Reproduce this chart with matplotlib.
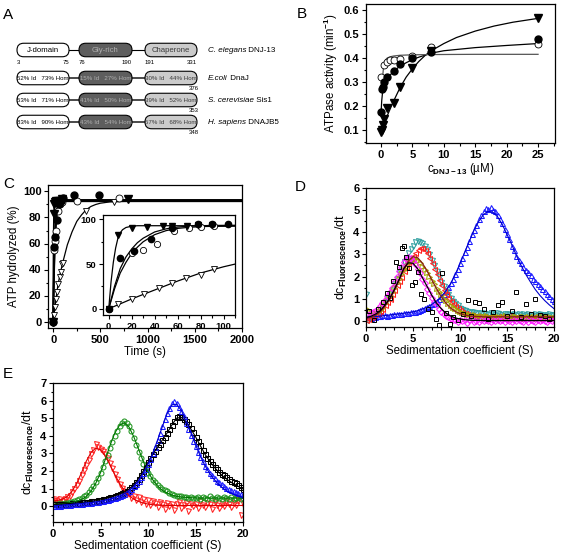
import numpy as np
import matplotlib
matplotlib.use('Agg')
import matplotlib.pyplot as plt
from matplotlib.patches import FancyBboxPatch
from matplotlib.ticker import MultipleLocator

plt.rcParams['font.family'] = ['Liberation Sans', 'DejaVu Sans']
plt.rcParams['font.weight'] = 'bold'
plt.rcParams['mathtext.fontset'] = 'custom'
plt.rcParams['mathtext.rm'] = 'Liberation Sans'
plt.rcParams['mathtext.bf'] = 'Liberation Sans:bold'
plt.rcParams['mathtext.it'] = 'Liberation Sans:italic'

# ---------------- panel A: domain architecture ----------------
species = ['C. elegans', 'E.coli', 'S. cerevisiae', 'H. sapiens']
proteins = ['DNJ-13', 'DnaJ', 'Sis1', 'DNAJB5']
domain_names = ['J-domain', 'Gly-rich', 'Chaperone']
domain_bounds = [3, 75, 76, 190, 191, 331]
j_ident = [52, 53, 83]
j_hom = [73, 71, 90]
gly_ident = [15, 41, 43]
gly_hom = [27, 50, 54]
chap_ident = [30, 39, 57]
chap_hom = [44, 52, 68]
lengths = [376, 353, 348]

# ---------------- panel B: ATPase activity ----------------
b_conc_filled = [0, 0.1, 0.25, 0.5, 1, 2, 3, 5, 8, 25]
b_filled = [0.175, 0.27, 0.28, 0.30, 0.32, 0.345, 0.375, 0.40, 0.425, 0.48]
b_conc_open = [0, 0.5, 1, 1.5, 2, 3, 5, 8, 25]
b_open = [0.322, 0.37, 0.385, 0.39, 0.39, 0.395, 0.41, 0.445, 0.457]
b_conc_tri = [0, 0.1, 0.25, 0.5, 1, 2, 3, 5, 8, 25]
b_tri = [0.09, 0.10, 0.12, 0.145, 0.19, 0.21, 0.28, 0.36, 0.43, 0.565]

b_fit_tri_x = [0, 0.5, 1, 1.5, 2, 3, 4, 5, 6, 7, 8, 10, 12, 15, 18, 21, 25]
b_fit_tri_y = [0.09, 0.125, 0.16, 0.19, 0.22, 0.275, 0.32, 0.355, 0.385, 0.41,
               0.43, 0.46, 0.485, 0.512, 0.533, 0.549, 0.565]
b_fit_filled_x = [0, 0.1, 0.25, 0.5, 0.75, 1, 1.5, 2, 3, 4, 5, 6, 8, 10, 15, 20, 25]
b_fit_filled_y = [0.17, 0.22, 0.26, 0.29, 0.305, 0.315, 0.33, 0.345, 0.365, 0.38,
                  0.393, 0.403, 0.42, 0.43, 0.443, 0.452, 0.46]
b_fit_open_x = [0.15, 0.25, 0.35, 0.5, 0.75, 1, 1.5, 2, 3, 5, 8, 15, 25]
b_fit_open_y = [0.29, 0.32, 0.35, 0.375, 0.393, 0.40, 0.405, 0.408, 0.411,
                0.413, 0.414, 0.415, 0.415]

# ---------------- panel C: ATP hydrolysis time course ----------------
c_t_ftri = [0, 5, 10, 20, 30, 50, 70, 90, 790]
c_ftri = [0, 83, 90, 92, 93, 93, 93, 94, 94]
c_t_fcirc = [0, 10, 20, 40, 60, 80, 100, 220, 480]
c_fcirc = [0, 57, 65, 78, 90, 93, 95, 97, 97]
c_t_ocirc = [0, 10, 20, 30, 50, 70, 90, 250, 700]
c_ocirc = [0, 55, 62, 70, 85, 90, 92, 93, 95]
c_t_otri = [0, 8, 20, 31, 44, 55, 67, 80, 92, 100, 350, 640]
c_otri = [0, 5, 11, 17, 23, 29, 34, 38, 44, 45, 85, 92]

c_fit_slow_x = [0, 25, 50, 75, 100, 150, 200, 250, 300, 350, 400, 450, 500, 600,
                700, 800, 1000, 1500, 2000]
c_fit_slow_y = [0, 15, 28, 37, 45, 59, 69, 77, 82, 86, 88.5, 90, 91, 92, 92.3,
                92.5, 92.5, 92.5, 92.5]
c_fit_ftri_x = [0, 2, 4, 6, 8, 10, 12, 15, 20, 25, 30, 40, 110, 2000]
c_fit_ftri_y = [0, 30, 52, 68, 79, 85, 88.5, 91, 92.5, 93, 93, 93, 93, 93]
c_fit_circ_x = [0, 5, 10, 15, 20, 25, 30, 40, 50, 60, 70, 80, 90, 110, 2000]
c_fit_fcirc_y = [0, 25, 45, 58, 67, 74, 79, 86, 89.5, 91.5, 92.5, 93, 93.3, 93.5, 93.5]
c_fit_ocirc_y = [0, 22, 40, 52, 62, 69, 75, 83, 87.5, 90, 91.2, 92, 92.3, 92.5, 92.5]
c_fit_lin_x = [0, 20, 40, 60, 80, 100, 110]
c_fit_lin_y = [0, 11, 21, 31, 40, 47, 50]

ins_t_ftri = [0, 8, 20, 33, 47, 55, 68, 78, 90]
ins_ftri = [0, 83, 91, 92, 93, 93, 93, 94, 94]
ins_t_fcirc = [0, 10, 22, 37, 55, 78, 90, 104]
ins_fcirc = [0, 57, 65, 78, 90, 95, 95, 95]
ins_t_ocirc = [0, 20, 30, 42, 57, 70, 80, 92]
ins_ocirc = [0, 62, 66, 72, 87, 90, 92, 93]
ins_t_otri = [0, 8, 20, 31, 44, 55, 67, 80, 92]
ins_otri = [0, 5, 11, 17, 23, 29, 34, 38, 44]

# ---------------- panels D / E: sedimentation ----------------
sed_x = np.linspace(0, 20, 81)
fit_x = np.linspace(0, 20, 41)

d_blue = [0.15, 0.18, 0.14, 0.20, 0.19, 0.22, 0.20, 0.24, 0.25, 0.23, 0.27, 0.28,
          0.30, 0.29, 0.32, 0.31, 0.34, 0.36, 0.35, 0.39, 0.40, 0.42, 0.46, 0.50,
          0.55, 0.58, 0.63, 0.68, 0.75, 0.82, 0.90, 1.00, 1.10, 1.22, 1.36, 1.52,
          1.70, 1.90, 2.10, 2.35, 2.60, 2.85, 3.10, 3.35, 3.60, 3.90, 4.10, 4.35,
          4.60, 4.80, 4.95, 5.10, 5.05, 5.15, 5.00, 4.95, 4.80, 4.60, 4.40, 4.15,
          3.90, 3.70, 3.40, 3.20, 2.95, 2.75, 2.60, 2.45, 2.30, 2.20, 2.05, 1.90,
          1.80, 1.65, 1.55, 1.45, 1.35, 1.20, 1.10, 1.00, 0.90]
d_cyan = [1.20, 0.05, 0.15, 0.20, 0.30, 0.40, 0.50, 0.65, 0.85, 1.00, 1.20, 1.40,
          1.65, 1.90, 2.15, 2.40, 2.65, 2.85, 3.05, 3.25, 3.40, 3.55, 3.60, 3.55,
          3.50, 3.40, 3.25, 3.00, 2.75, 2.50, 2.25, 2.00, 1.75, 1.55, 1.35, 1.20,
          1.05, 0.90, 0.80, 0.70, 0.60, 0.55, 0.50, 0.45, 0.42, 0.40, 0.38, 0.36,
          0.35, 0.33, 0.36, 0.32, 0.30, 0.34, 0.31, 0.28, 0.33, 0.30, 0.27, 0.32,
          0.29, 0.31, 0.26, 0.30, 0.28, 0.32, 0.27, 0.30, 0.26, 0.30, 0.28, 0.25,
          0.29, 0.27, 0.31, 0.26, 0.28, 0.25, 0.29, 0.27, 0.26]
d_red = [0.05, 0.10, 0.15, 0.20, 0.30, 0.35, 0.45, 0.55, 0.70, 0.85, 1.00, 1.20,
         1.40, 1.60, 1.80, 2.00, 2.25, 2.45, 2.65, 2.80, 2.95, 3.05, 3.20, 3.30,
         3.30, 3.20, 3.05, 2.85, 2.60, 2.35, 2.10, 1.85, 1.60, 1.40, 1.20, 1.05,
         0.90, 0.78, 0.68, 0.58, 0.50, 0.42, 0.36, 0.32, 0.28, 0.25, 0.22, 0.20,
         0.22, 0.18, 0.20, 0.16, 0.19, 0.21, 0.15, 0.18, 0.20, 0.16, 0.19, 0.14,
         0.18, 0.21, 0.15, 0.17, 0.19, 0.14, 0.18, 0.16, 0.15, 0.19, 0.13, 0.17,
         0.16, 0.12, 0.18, 0.15, 0.14, 0.17, 0.12, 0.15, 0.13]
d_olive = [0.55, 0.45, 0.40, 0.35, 0.35, 0.40, 0.50, 0.60, 0.80, 0.95, 1.10, 1.30,
           1.50, 1.70, 1.90, 2.10, 2.30, 2.45, 2.60, 2.72, 2.80, 2.78, 2.70, 2.60,
           2.45, 2.30, 2.15, 2.00, 1.80, 1.65, 1.45, 1.30, 1.15, 1.00, 0.88, 0.78,
           0.68, 0.60, 0.52, 0.45, 0.40, 0.35, 0.30, 0.28, 0.25, 0.22, 0.24, 0.20,
           0.18, 0.22, 0.16, 0.20, 0.17, 0.14, 0.19, 0.15, 0.18, 0.13, 0.16, 0.20,
           0.14, 0.17, 0.12, 0.16, 0.19, 0.13, 0.15, 0.18, 0.12, 0.16, 0.14, 0.17,
           0.13, 0.18, 0.11, 0.15, 0.16, 0.12, 0.15, 0.13, 0.14]
d_magenta = [0.30, 0.25, 0.35, 0.40, 0.45, 0.55, 0.65, 0.80, 0.95, 1.10, 1.30, 1.50,
             1.75, 2.00, 2.25, 2.45, 2.65, 2.80, 2.90, 2.85, 2.70, 2.55, 2.35, 2.15,
             1.90, 1.70, 1.45, 1.25, 1.05, 0.85, 0.70, 0.55, 0.42, 0.32, 0.22, 0.15,
             0.10, 0.05, 0.02, -0.05, 0.03, -0.02, 0.05, -0.08, 0.02, 0.06, -0.04, 0.00,
             -0.06, 0.04, -0.02, 0.05, 0.00, -0.05, 0.03, -0.03, 0.05, -0.02, 0.02, -0.06,
             0.03, 0.00, -0.04, 0.04, -0.03, 0.05, 0.01, -0.05, 0.02, -0.04, 0.04, 0.00,
             -0.05, 0.03, -0.01, 0.04, 0.01, -0.06, 0.03, -0.02, 0.02]
d_sq_x = [0.3, 0.8, 1.3, 1.8, 2.2, 2.6, 2.9, 3.2, 3.5, 3.8, 4.0, 4.3, 4.6, 4.9, 5.2,
          5.5, 5.8, 6.2, 6.6, 7.0, 7.4, 7.8, 8.1, 8.5, 8.9, 9.3, 9.8, 10.3, 10.8,
          11.2, 11.6, 12.0, 12.5, 13.0, 13.5, 14.0, 14.5, 15.0, 15.5, 16.0, 16.5,
          17.0, 17.5, 18.0, 18.5, 19.0, 19.5]
d_sq = [0.45, 0.05, 0.55, 0.85, 1.25, 1.05, 1.80, 2.65, 2.45, 3.30, 3.40, 2.90, 2.40,
        1.60, 1.75, 2.20, 1.20, 1.00, 0.55, 0.40, 0.10, -0.20, 2.15, 0.35, -0.15,
        0.15, 0.05, 0.30, 0.95, 0.20, 0.85, 0.80, 0.55, 0.10, 0.40, 0.70, 0.85, 0.20,
        0.45, 1.30, 0.15, 0.75, 0.30, 1.00, 0.25, 0.20, 0.10]

d_fit_blue = [0.15, 0.17, 0.19, 0.21, 0.24, 0.26, 0.29, 0.31, 0.34, 0.37,
              0.40, 0.46, 0.53, 0.62, 0.74, 0.89, 1.08, 1.35, 1.68, 2.10,
              2.58, 3.10, 3.60, 4.10, 4.50, 4.80, 4.95, 4.90, 4.70, 4.35,
              3.90, 3.45, 2.95, 2.50, 2.10, 1.75, 1.42, 1.15, 0.92, 0.72, 0.55]
d_fit_black = [0.15, 0.20, 0.30, 0.45, 0.70, 1.00, 1.40, 1.85, 2.35, 2.62,
               2.60, 2.35, 1.95, 1.55, 1.15, 0.80, 0.55, 0.35, 0.22, 0.13,
               0.08, 0.05, 0.03, 0.02, 0.02, 0.01, 0.01, 0.01, 0.01, 0.01,
               0.01, 0.01, 0.01, 0.01, 0.01, 0.01, 0.01, 0.01, 0.01, 0.01, 0.01]
d_fit_maroon = [0.10, 0.15, 0.25, 0.40, 0.65, 0.95, 1.35, 1.80, 2.30, 2.70,
                2.90, 2.85, 2.60, 2.25, 1.85, 1.45, 1.10, 0.80, 0.58, 0.42,
                0.32, 0.26, 0.22, 0.20, 0.19, 0.18, 0.18, 0.18, 0.18, 0.18,
                0.18, 0.18, 0.18, 0.18, 0.18, 0.18, 0.18, 0.18, 0.18, 0.18, 0.18]

e_red = [0.35, 0.40, 0.30, 0.38, 0.30, 0.42, 0.50, 0.60, 0.80, 1.00, 1.20, 1.45,
         1.75, 2.05, 2.35, 2.65, 2.95, 3.20, 3.55, 3.35, 3.25, 3.15, 2.95, 2.75,
         2.45, 2.15, 1.85, 1.55, 1.25, 1.05, 0.85, 0.70, 0.75, 0.45, 0.60, 0.35,
         0.50, 0.25, 0.40, 0.15, 0.35, 0.05, 0.30, 0.20, -0.05, 0.25, 0.10, -0.15,
         0.20, 0.00, 0.15, -0.20, 0.10, 0.25, -0.10, 0.05, 0.20, -0.25, 0.10, 0.00,
         0.15, -0.10, 0.30, 0.05, -0.05, 0.20, 0.10, -0.15, 0.25, 0.05, -0.10, 0.15,
         0.00, 0.30, 0.10, -0.05, 0.20, 0.05, 0.35, -0.50, 0.15]
e_green = [0.10, 0.15, 0.12, 0.18, 0.15, 0.20, 0.18, 0.22, 0.25, 0.30, 0.35, 0.40,
           0.45, 0.55, 0.65, 0.80, 0.95, 1.15, 1.35, 1.60, 1.90, 2.20, 2.55, 2.90,
           3.30, 3.65, 4.00, 4.30, 4.55, 4.75, 4.85, 4.75, 4.55, 4.25, 3.90, 3.50,
           3.10, 2.75, 2.40, 2.15, 1.90, 1.70, 1.50, 1.35, 1.20, 1.10, 1.00, 0.90,
           0.85, 0.75, 0.70, 0.65, 0.60, 0.55, 0.55, 0.50, 0.50, 0.45, 0.50, 0.45,
           0.45, 0.50, 0.40, 0.50, 0.45, 0.40, 0.55, 0.45, 0.40, 0.50, 0.45, 0.40,
           0.50, 0.45, 0.40, 0.50, 0.40, 0.45, 0.50, 0.40, 0.45]
e_blue = [0.00, 0.02, 0.05, 0.03, 0.06, 0.05, 0.08, 0.09, 0.10, 0.11, 0.12, 0.14,
          0.15, 0.16, 0.18, 0.19, 0.20, 0.22, 0.24, 0.26, 0.28, 0.30, 0.33, 0.36,
          0.40, 0.44, 0.48, 0.53, 0.58, 0.64, 0.70, 0.78, 0.88, 1.00, 1.12, 1.28,
          1.45, 1.65, 1.88, 2.12, 2.40, 2.70, 3.00, 3.35, 3.75, 4.15, 4.55, 4.95,
          5.30, 5.60, 5.85, 5.95, 5.85, 5.65, 5.40, 5.10, 4.75, 4.40, 4.05, 3.70,
          3.40, 3.10, 2.80, 2.55, 2.30, 2.10, 1.90, 1.75, 1.60, 1.45, 1.35, 1.25,
          1.15, 1.05, 0.98, 0.90, 0.85, 0.80, 0.75, 0.70, 0.65]
e_black = [0.10, 0.12, 0.08, 0.11, 0.12, 0.14, 0.13, 0.15, 0.16, 0.17, 0.18, 0.20,
           0.21, 0.22, 0.24, 0.25, 0.27, 0.29, 0.31, 0.33, 0.36, 0.39, 0.42, 0.46,
           0.50, 0.54, 0.58, 0.63, 0.68, 0.74, 0.80, 0.88, 0.97, 1.08, 1.22, 1.38,
           1.56, 1.78, 2.00, 2.25, 2.50, 2.75, 2.95, 3.15, 3.35, 3.55, 3.75, 3.95,
           4.15, 4.40, 4.60, 4.85, 5.05, 5.10, 5.05, 4.95, 4.85, 4.65, 4.45, 4.20,
           3.95, 3.70, 3.45, 3.20, 2.95, 2.75, 2.55, 2.40, 2.25, 2.10, 1.95, 1.85,
           1.75, 1.65, 1.55, 1.45, 1.40, 1.30, 1.20, 1.10, 1.00]

e_fit_red = [0.30, 0.32, 0.40, 0.55, 0.85, 1.30, 1.90, 2.55, 3.05, 3.30,
             3.20, 2.85, 2.35, 1.80, 1.30, 0.90, 0.60, 0.40, 0.27, 0.18,
             0.12, 0.08, 0.06, 0.05, 0.04, 0.04, 0.04, 0.04, 0.04, 0.04,
             0.04, 0.04, 0.04, 0.04, 0.04, 0.04, 0.04, 0.04, 0.04, 0.04, 0.04]
e_fit_green = [0.10, 0.12, 0.15, 0.18, 0.22, 0.28, 0.38, 0.55, 0.85, 1.30,
               1.90, 2.65, 3.45, 4.15, 4.60, 4.75, 4.50, 3.95, 3.25, 2.55,
               1.95, 1.50, 1.15, 0.90, 0.75, 0.63, 0.56, 0.52, 0.50, 0.48,
               0.47, 0.46, 0.46, 0.46, 0.46, 0.46, 0.46, 0.46, 0.46, 0.46, 0.46]
e_fit_blue = [0.00, 0.03, 0.06, 0.08, 0.10, 0.12, 0.15, 0.18, 0.20, 0.24,
              0.28, 0.34, 0.40, 0.48, 0.58, 0.70, 0.88, 1.12, 1.45, 1.88,
              2.40, 3.00, 3.75, 4.50, 5.25, 5.75, 5.80, 5.45, 4.85, 4.20,
              3.50, 2.85, 2.30, 1.85, 1.50, 1.20, 0.98, 0.80, 0.67, 0.57, 0.50]
e_fit_black = [0.10, 0.11, 0.12, 0.14, 0.16, 0.18, 0.21, 0.24, 0.27, 0.31,
               0.36, 0.42, 0.50, 0.58, 0.68, 0.80, 0.97, 1.22, 1.56, 2.00,
               2.50, 2.95, 3.35, 3.75, 4.15, 4.60, 5.00, 5.05, 4.80, 4.40,
               3.95, 3.45, 2.95, 2.55, 2.20, 1.90, 1.65, 1.45, 1.28, 1.12, 0.98]


def style_axes(ax, fs=8):
    ax.tick_params(which='both', direction='out', top=False, right=False,
                   labelsize=fs, width=0.8, pad=1.5)
    ax.tick_params(which='major', length=3.2)
    ax.tick_params(which='minor', length=1.8)
    for s in ax.spines.values():
        s.set_linewidth(0.9)


fig = plt.figure(figsize=(5.63, 5.55), dpi=100)

# panel letters
for letter, (px, py) in zip('ABCDE', [(3, 8), (297, 7), (3, 177), (295, 180), (3, 367)]):
    fig.text(px / 563, 1 - py / 555, letter, fontsize=11, fontweight='normal',
             va='top', ha='left')

# ---------- A ----------
axa = fig.add_axes([0, 1 - 170 / 555, 290 / 563, 170 / 555])
axa.set_xlim(0, 290)
axa.set_ylim(170, 0)
axa.axis('off')
row_y = [50, 78, 100, 122]
box_x = [(17, 69), (79, 132), (145, 197)]
box_fill = ['white', '#5e5e5e', '#cbcbcb']
box_text = ['black', '#b0b0b0', '#3a3a3a']
box_h = 13.5
for r, y in enumerate(row_y):
    lc, lw = ('black', 0.8) if r == 0 else ('#4a4a4a', 1.4)
    axa.plot([box_x[0][1], box_x[1][0]], [y, y], color=lc, lw=lw, zorder=1)
    axa.plot([box_x[1][1], box_x[2][0]], [y, y], color=lc, lw=lw, zorder=1)
    for k, (x0, x1) in enumerate(box_x):
        axa.add_patch(FancyBboxPatch((x0, y - box_h / 2), x1 - x0, box_h,
                                     boxstyle='round,pad=0,rounding_size=6.7',
                                     fc=box_fill[k], ec='black', lw=0.8, zorder=2))
        if r == 0:
            label = domain_names[k]
            fs = 5.6
        else:
            ident = [j_ident, gly_ident, chap_ident][k][r - 1]
            hom = [j_hom, gly_hom, chap_hom][k][r - 1]
            label = f'{ident}% Id   {hom}% Hom'
            fs = 4.4
        axa.text((x0 + x1) / 2, y + 0.3, label, ha='center', va='center',
                 fontsize=fs, fontweight='normal', color=box_text[k], zorder=3)
    t = axa.text(208, y + 2.2, species[r], fontsize=5.8, fontstyle='italic',
                 fontweight='normal', va='baseline', ha='left')
    axa.annotate(' ' + proteins[r], xy=(1, y + 2.2), xycoords=(t, 'data'),
                 fontsize=5.8, fontweight='normal', va='baseline', ha='left')
    if r > 0:
        axa.text(199, y + 11, str(lengths[r - 1]), fontsize=4.3, fontweight='normal',
                 ha='right', va='center')
for i, num in enumerate(domain_bounds):
    k = i // 2
    xpos = box_x[k][0] if i % 2 == 0 else box_x[k][1]
    axa.text(xpos, 62, str(num), fontsize=4.3, fontweight='normal',
             ha='left' if i % 2 == 0 else 'right', va='center')

# ---------- B ----------
axb = fig.add_axes([366 / 563, 1 - 143 / 555, 189 / 563, 139 / 555])
axb.plot(b_fit_tri_x, b_fit_tri_y, color='black', lw=0.9)
axb.plot(b_fit_filled_x, b_fit_filled_y, color='black', lw=0.9)
axb.plot(b_fit_open_x, b_fit_open_y, color='#555555', lw=0.9)
axb.plot(b_conc_open, b_open, 'o', mfc='white', mec='black', ms=5, mew=0.6)
axb.plot(b_conc_filled, b_filled, 'o', color='black', ms=5)
axb.plot(b_conc_tri, b_tri, 'v', color='black', ms=5.5)
axb.set_xlim(-2.4, 27.7)
axb.set_ylim(0.045, 0.625)
axb.xaxis.set_major_locator(MultipleLocator(5))
axb.xaxis.set_minor_locator(MultipleLocator(2.5))
axb.yaxis.set_major_locator(MultipleLocator(0.1))
axb.yaxis.set_minor_locator(MultipleLocator(0.05))
axb.set_ylabel('ATPase activity (min$^{\\mathbf{-1}}$)', fontsize=8.3, labelpad=3)
axb.set_xlabel('c$_{\\mathbf{DNJ-13}}$ (µM)', fontsize=8.3, labelpad=1)
style_axes(axb)

# ---------- C ----------
axc = fig.add_axes([48 / 563, 1 - 328 / 555, 194 / 563, 143 / 555])
axc.plot(c_fit_slow_x, c_fit_slow_y, color='black', lw=0.9)
axc.plot(c_fit_ftri_x, c_fit_ftri_y, color='black', lw=1.3)
axc.plot(c_fit_circ_x, c_fit_fcirc_y, color='black', lw=1.3)
axc.plot(c_fit_circ_x, c_fit_ocirc_y, color='black', lw=1.3)
axc.plot(c_t_otri, c_otri, 'v', mfc='white', mec='black', ms=5, mew=0.6)
axc.plot(c_t_ocirc, c_ocirc, 'o', mfc='white', mec='black', ms=5, mew=0.6)
axc.plot(c_t_fcirc, c_fcirc, 'o', color='black', ms=5)
axc.plot(c_t_ftri, c_ftri, 'v', color='black', ms=5.5)
axc.set_xlim(-55, 2000)
axc.set_ylim(-5, 105)
axc.xaxis.set_major_locator(MultipleLocator(500))
axc.xaxis.set_minor_locator(MultipleLocator(250))
axc.yaxis.set_major_locator(MultipleLocator(20))
axc.yaxis.set_minor_locator(MultipleLocator(10))
axc.set_xlabel('Time (s)', fontsize=8.3, labelpad=1)
axc.set_ylabel('ATP hydrolyzed (%)', fontsize=8.3, labelpad=2)
style_axes(axc)

axi = fig.add_axes([103 / 563, 1 - 315 / 555, 132 / 563, 100 / 555])
axi.plot(c_fit_lin_x, c_fit_lin_y, color='black', lw=0.9)
axi.plot(c_fit_ftri_x, c_fit_ftri_y, color='black', lw=0.9)
axi.plot(c_fit_circ_x, c_fit_fcirc_y, color='black', lw=0.9)
axi.plot(c_fit_circ_x, c_fit_ocirc_y, color='black', lw=0.9)
axi.plot(ins_t_otri, ins_otri, 'v', mfc='white', mec='black', ms=4.5, mew=0.6)
axi.plot(ins_t_ocirc, ins_ocirc, 'o', mfc='white', mec='black', ms=4.5, mew=0.6)
axi.plot(ins_t_fcirc, ins_fcirc, 'o', color='black', ms=4.5)
axi.plot(ins_t_ftri, ins_ftri, 'v', color='black', ms=5)
axi.set_xlim(-5, 110)
axi.set_ylim(-7, 105)
axi.xaxis.set_major_locator(MultipleLocator(20))
axi.xaxis.set_minor_locator(MultipleLocator(10))
axi.yaxis.set_major_locator(MultipleLocator(50))
axi.yaxis.set_minor_locator(MultipleLocator(25))
style_axes(axi, fs=6.8)

# ---------- D ----------
axd = fig.add_axes([366 / 563, 1 - 327 / 555, 188 / 563, 139 / 555])
mk = dict(ls='none', mfc='none', ms=3.6, mew=0.75)
axd.plot(sed_x, d_blue, marker='^', mec='#1a1aff', **mk)
axd.plot(sed_x, d_cyan, marker='v', mec='#2f9f9f', **mk)
axd.plot(sed_x, d_red, marker='<', mec='#ff2020', **mk)
axd.plot(sed_x, d_olive, marker='>', mec='#a3a300', **mk)
axd.plot(sed_x, d_magenta, marker='D', mec='#ff20ff', ms=3, mew=0.75, ls='none', mfc='none')
axd.plot(d_sq_x, d_sq, marker='s', mec='black', ms=3.2, mew=0.7, ls='none', mfc='none')
axd.plot(fit_x, d_fit_blue, color='#0000cc', lw=0.8)
axd.plot(fit_x, d_fit_maroon, color='#8b1a1a', lw=0.9)
axd.plot(fit_x, d_fit_black, color='black', lw=0.9)
axd.set_xlim(0, 20)
axd.set_ylim(-0.28, 6)
axd.xaxis.set_major_locator(MultipleLocator(5))
axd.xaxis.set_minor_locator(MultipleLocator(1))
axd.yaxis.set_major_locator(MultipleLocator(1))
axd.yaxis.set_minor_locator(MultipleLocator(0.5))
axd.set_xlabel('Sedimentation coefficient (S)', fontsize=8.3, labelpad=1)
axd.set_ylabel('dc$_{\\mathbf{Fluorescence}}$/dt', fontsize=9, labelpad=3)
style_axes(axd)

# ---------- E ----------
axe = fig.add_axes([53 / 563, 1 - 522 / 555, 190 / 563, 139 / 555])
axe.plot(sed_x, e_red, marker='v', mec='#ff2020', **mk)
axe.plot(sed_x, e_green, marker='o', mec='#1f951f', **mk)
axe.plot(sed_x, e_black, marker='s', mec='black', **mk)
axe.plot(sed_x, e_blue, marker='^', mec='#1a1aff', **mk)
axe.plot(fit_x, e_fit_red, color='#dd0000', lw=0.8)
axe.plot(fit_x, e_fit_green, color='#007700', lw=0.8)
axe.plot(fit_x, e_fit_black, color='black', lw=0.8)
axe.plot(fit_x, e_fit_blue, color='#0000cc', lw=0.8)
axe.set_xlim(0, 20)
axe.set_ylim(-0.9, 7)
axe.xaxis.set_major_locator(MultipleLocator(5))
axe.xaxis.set_minor_locator(MultipleLocator(1))
axe.yaxis.set_major_locator(MultipleLocator(1))
axe.yaxis.set_minor_locator(MultipleLocator(0.5))
axe.set_xlabel('Sedimentation coefficient (S)', fontsize=8.3, labelpad=1)
axe.set_ylabel('dc$_{\\mathbf{Fluorescence}}$/dt', fontsize=9, labelpad=3)
style_axes(axe)

fig.savefig('out.png', dpi=100)
